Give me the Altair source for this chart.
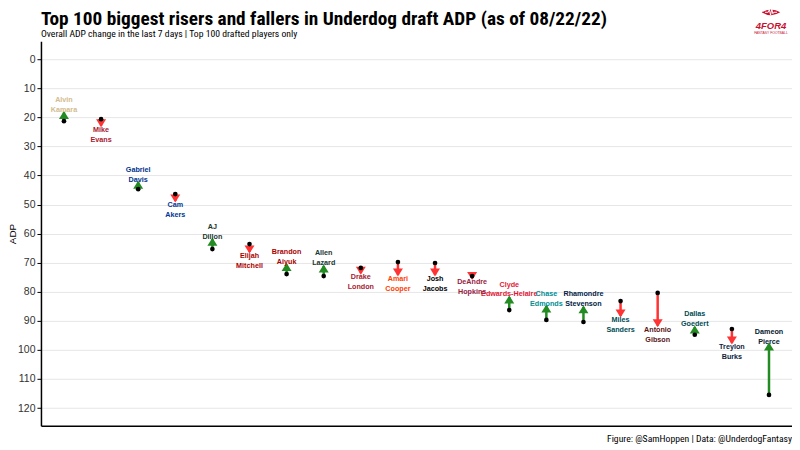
import altair as alt
import pandas as pd

players = ["Alvin Kamara", "Mike Evans", "Gabriel Davis", "Cam Akers", "AJ Dillon",
           "Elijah Mitchell", "Brandon Aiyuk", "Allen Lazard", "Drake London", "Amari Cooper",
           "Josh Jacobs", "DeAndre Hopkins", "Clyde Edwards-Helaire", "Chase Edmonds",
           "Rhamondre Stevenson", "Miles Sanders", "Antonio Gibson", "Dallas Goedert",
           "Treylon Burks", "Dameon Pierce"]
old_adp = [21.3, 20.6, 44.7, 46.4, 65.3, 63.6, 73.9, 74.6, 71.8, 69.8,
           70.1, 74.6, 86.3, 89.7, 90.4, 83.2, 80.4, 94.8, 92.8, 115.5]
new_adp = [18.3, 22.9, 42.3, 48.8, 61.9, 66.3, 70.6, 71.1, 73.6, 74.2,
           74.2, 75.4, 81.8, 84.9, 85.2, 88.3, 91.7, 92.1, 97.6, 98.0]
team_colors = ["#D3BC8D", "#A71930", "#00338D", "#003594", "#203731",
               "#AA0000", "#AA0000", "#203731", "#A71930", "#FF3C00",
               "#000000", "#97233F", "#E31837", "#008E97", "#002244",
               "#004C54", "#5A1414", "#004C54", "#0C2340", "#03202F"]
y_ticks = [0, 10, 20, 30, 40, 50, 60, 70, 80, 90, 100, 110, 120]

df = pd.DataFrame({
    "player": players,
    "label": [p.split(" ", 1)[0] + "\n" + p.split(" ", 1)[1] for p in players],
    "old": old_adp,
    "new": new_adp,
    "tcolor": team_colors,
})
df["dir"] = ["up" if n < o else "down" for o, n in zip(old_adp, new_adp)]

GREEN = "#228B22"
RED = "#FF3333"
PATH_UP = "M0,-0.3L1,1.3L-1,1.3Z"
PATH_DOWN = "M0,0.3L1,-1.3L-1,-1.3Z"

W, H = 752, 385

x = alt.X("player:N", sort=players,
          scale=alt.Scale(type="point", padding=0.62),
          axis=alt.Axis(labels=False, ticks=False, title=None, grid=False,
                        domainColor="black", domainWidth=1.5))
yscale = alt.Scale(domain=[-6.2, 126.1], reverse=True, nice=False, zero=False)
yaxis = alt.Axis(values=y_ticks, title="ADP", grid=True, gridColor="#e6e6e6",
                 gridWidth=1, domainColor="black", domainWidth=1.5,
                 tickColor="black", tickSize=4, labelFontSize=10.5,
                 labelColor="#333333", labelFont="Liberation Sans",
                 labelOverlap=False,
                 titleFont="Liberation Sans", titleFontSize=10,
                 titleFontWeight="normal", titleColor="black", titlePadding=0)
col = alt.Color("dir:N", scale=alt.Scale(domain=["up", "down"], range=[GREEN, RED]), legend=None)


def Y(field):
    return alt.Y(field, scale=yscale, axis=yaxis)


base = alt.Chart(df)

rules = base.mark_rule(strokeWidth=2.5).encode(
    x=x, y=Y("old:Q"), y2="new:Q", color=col)

heads = base.mark_point(filled=True, size=100, opacity=1, strokeWidth=0).encode(
    x=x, y=Y("new:Q"), color=col,
    shape=alt.Shape("dir:N", scale=alt.Scale(domain=["up", "down"], range=[PATH_UP, PATH_DOWN]), legend=None))

dots = base.mark_point(filled=True, size=22, opacity=1, color="black").encode(
    x=x, y=Y("old:Q"))

lab_kw = dict(font="Liberation Sans", fontWeight="bold", fontSize=7.2,
              lineBreak="\n", lineHeight=10, baseline="middle", align="center")
labels_up = base.transform_filter(alt.datum.dir == "up").mark_text(dy=-12.5, **lab_kw).encode(
    x=x, y=Y("new:Q"), text="label:N",
    color=alt.Color("tcolor:N", scale=None))
labels_down = base.transform_filter(alt.datum.dir == "down").mark_text(dy=4, **lab_kw).encode(
    x=x, y=Y("new:Q"), text="label:N",
    color=alt.Color("tcolor:N", scale=None))

one = alt.Chart(pd.DataFrame({"a": [0]}))
NARROW = "Liberation Sans Narrow, Roboto Condensed, Open Sans"
title = one.mark_text(text="Top 100 biggest risers and fallers in Underdog draft ADP (as of 08/22/22)",
                      font=NARROW, fontWeight="bold", fontSize=19.3, align="left",
                      baseline="alphabetic", color="black").encode(
    x=alt.value(0), y=alt.value(-16.5))
subtitle = one.mark_text(text="Overall ADP change in the last 7 days | Top 100 drafted players only",
                         font=NARROW, fontSize=9.7, align="left", baseline="alphabetic",
                         color="black").encode(x=alt.value(0), y=alt.value(-4.5))
caption = one.mark_text(text="Figure: @SamHoppen | Data: @UnderdogFantasy",
                        font=NARROW, fontSize=9.7, align="right", baseline="alphabetic",
                        color="black").encode(x=alt.value(W), y=alt.value(H + 16))

# logo
LX = 731
FOOT = "M-1,0Q0,-0.62,1,0Q0,0.62,-1,0Z"
PULSE = "M-0.65,0L-0.3,0L-0.18,-0.3L-0.05,0.3L0.08,-0.35L0.2,0.15L0.3,0L0.65,0"
logo_ball = one.mark_point(shape=FOOT, filled=True, size=340, color="#C8102E", opacity=1).encode(
    x=alt.value(LX), y=alt.value(-29))
logo_pulse = one.mark_point(shape=PULSE, filled=False, size=340, color="white", strokeWidth=1,
                            opacity=1).encode(x=alt.value(LX), y=alt.value(-29))
logo_txt = one.mark_text(text="4FOR4", font="Liberation Sans", fontWeight="bold", fontStyle="italic",
                         fontSize=9.5, color="#C8102E", align="center", baseline="alphabetic").encode(
    x=alt.value(LX), y=alt.value(-12.5))
logo_sub = one.mark_text(text="FANTASY FOOTBALL", font="Liberation Sans", fontSize=3.4,
                         color="#C8102E", align="center", baseline="alphabetic").encode(
    x=alt.value(LX), y=alt.value(-7))

chart = alt.layer(rules, heads, dots, labels_up, labels_down,
                  title, subtitle, caption, logo_ball, logo_pulse, logo_txt, logo_sub).properties(
    width=W, height=H,
    autosize=alt.AutoSizeParams(type="none"),
    padding={"left": 33, "top": 33, "right": 0, "bottom": 24},
    background="white",
).configure_view(stroke=None)

chart.save("out.html", embed_options={"renderer": "svg", "actions": False})
